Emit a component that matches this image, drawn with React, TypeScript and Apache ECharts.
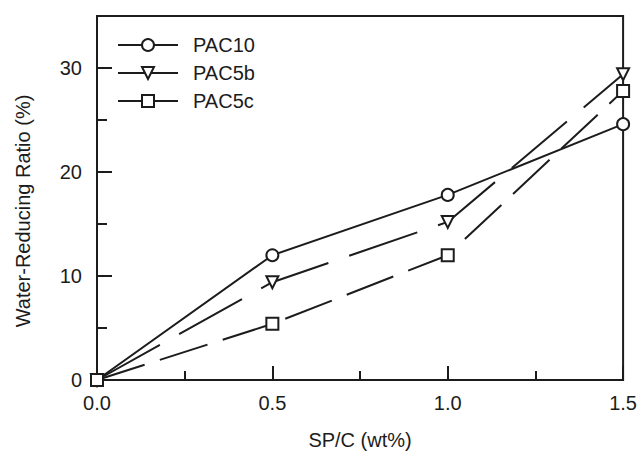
import React, { useEffect, useRef } from "react";
import * as echarts from "echarts";

const xValues = [0, 0.5, 1.0, 1.5];
const pac10 = [0, 12.0, 17.8, 24.6];
const pac5b = [0, 9.4, 15.2, 29.4];
const pac5c = [0, 5.4, 12.0, 27.8];
const seriesNames = ["PAC10", "PAC5b", "PAC5c"];
const xTitle = "SP/C (wt%)";
const yTitle = "Water-Reducing Ratio (%)";

const INK = "#1c1c1c";
const FONT = "'Liberation Sans', Arial, Helvetica, sans-serif";
const FS = 20;

export default function App() {
  const ref = useRef<HTMLDivElement>(null);
  useEffect(() => {
    if (!ref.current) return;
    const chart = echarts.init(ref.current, undefined, { renderer: "svg" });
    const pts = (ys: number[]) => xValues.map((x, i) => [x, ys[i]]);
    const baseSeries = (name: string, data: number[], symbol: string, dash: any, rotate = 0) => ({
      name,
      type: "line",
      data: pts(data),
      symbol,
      symbolSize: 12,
      symbolRotate: rotate,
      clip: false,
      xAxisIndex: 0,
      yAxisIndex: 0,
      lineStyle: { color: INK, width: 2, type: dash },
      itemStyle: { color: "#ffffff", borderColor: INK, borderWidth: 2 },
      z: 3,
    });
    chart.setOption({
      animation: false,
      backgroundColor: "#ffffff",
      textStyle: { fontFamily: FONT, color: INK },
      grid: {
        left: 97,
        right: 16,
        top: 16,
        bottom: 74,
        show: true,
        borderColor: INK,
        borderWidth: 2,
        backgroundColor: "transparent",
      },
      legend: {
        orient: "vertical",
        left: 112,
        top: 30,
        itemWidth: 60,
        itemHeight: 15,
        itemGap: 8,
        lineStyle: { type: "solid", width: 2, color: INK },
        textStyle: { fontSize: FS, color: INK, fontFamily: FONT, padding: [0, 0, 0, 10] },
        data: seriesNames,
      },
      xAxis: [
        {
          type: "value",
          min: 0,
          max: 1.5,
          interval: 0.5,
          position: "bottom",
          name: xTitle,
          nameLocation: "middle",
          nameGap: 50,
          nameTextStyle: { fontSize: FS, color: INK, fontFamily: FONT },
          axisLine: { show: true, lineStyle: { color: INK, width: 2 } },
          axisTick: { show: true, inside: true, length: 14, lineStyle: { color: INK, width: 2 } },
          axisLabel: { fontSize: FS, color: INK, margin: 13, formatter: (v: number) => v.toFixed(1) },
          splitLine: { show: false },
        },
        {
          type: "value",
          min: 0,
          max: 1.5,
          interval: 0.25,
          position: "bottom",
          axisLine: { show: false },
          axisTick: { show: true, inside: true, length: 9, lineStyle: { color: INK, width: 2 } },
          axisLabel: { show: false },
          splitLine: { show: false },
        },
      ],
      yAxis: [
        {
          type: "value",
          min: 0,
          max: 35,
          interval: 10,
          position: "left",
          axisLine: { show: true, lineStyle: { color: INK, width: 2 } },
          axisTick: { show: true, inside: true, length: 15, lineStyle: { color: INK, width: 2 } },
          axisLabel: { fontSize: FS, color: INK, margin: 15, showMaxLabel: false },
          splitLine: { show: false },
        },
        {
          type: "value",
          min: 0,
          max: 35,
          interval: 5,
          position: "left",
          axisLine: { show: false },
          axisTick: { show: true, inside: true, length: 10, lineStyle: { color: INK, width: 2 } },
          axisLabel: { show: false },
          splitLine: { show: false },
        },
      ],
      graphic: [
        {
          type: "text",
          x: 23,
          y: 211,
          rotation: Math.PI / 2,
          style: {
            text: yTitle,
            fontSize: FS,
            fontFamily: FONT,
            fill: INK,
            align: "center",
            verticalAlign: "middle",
          },
        },
      ],
      series: [
        baseSeries(seriesNames[0], pac10, "circle", "solid"),
        baseSeries(seriesNames[1], pac5b, "triangle", [72, 22], 180),
        baseSeries(seriesNames[2], pac5c, "rect", [50, 16]),
      ],
    });
    return () => chart.dispose();
  }, []);
  return <div ref={ref} style={{ width: 640, height: 455, position: "absolute", left: 0, top: 0 }} />;
}
